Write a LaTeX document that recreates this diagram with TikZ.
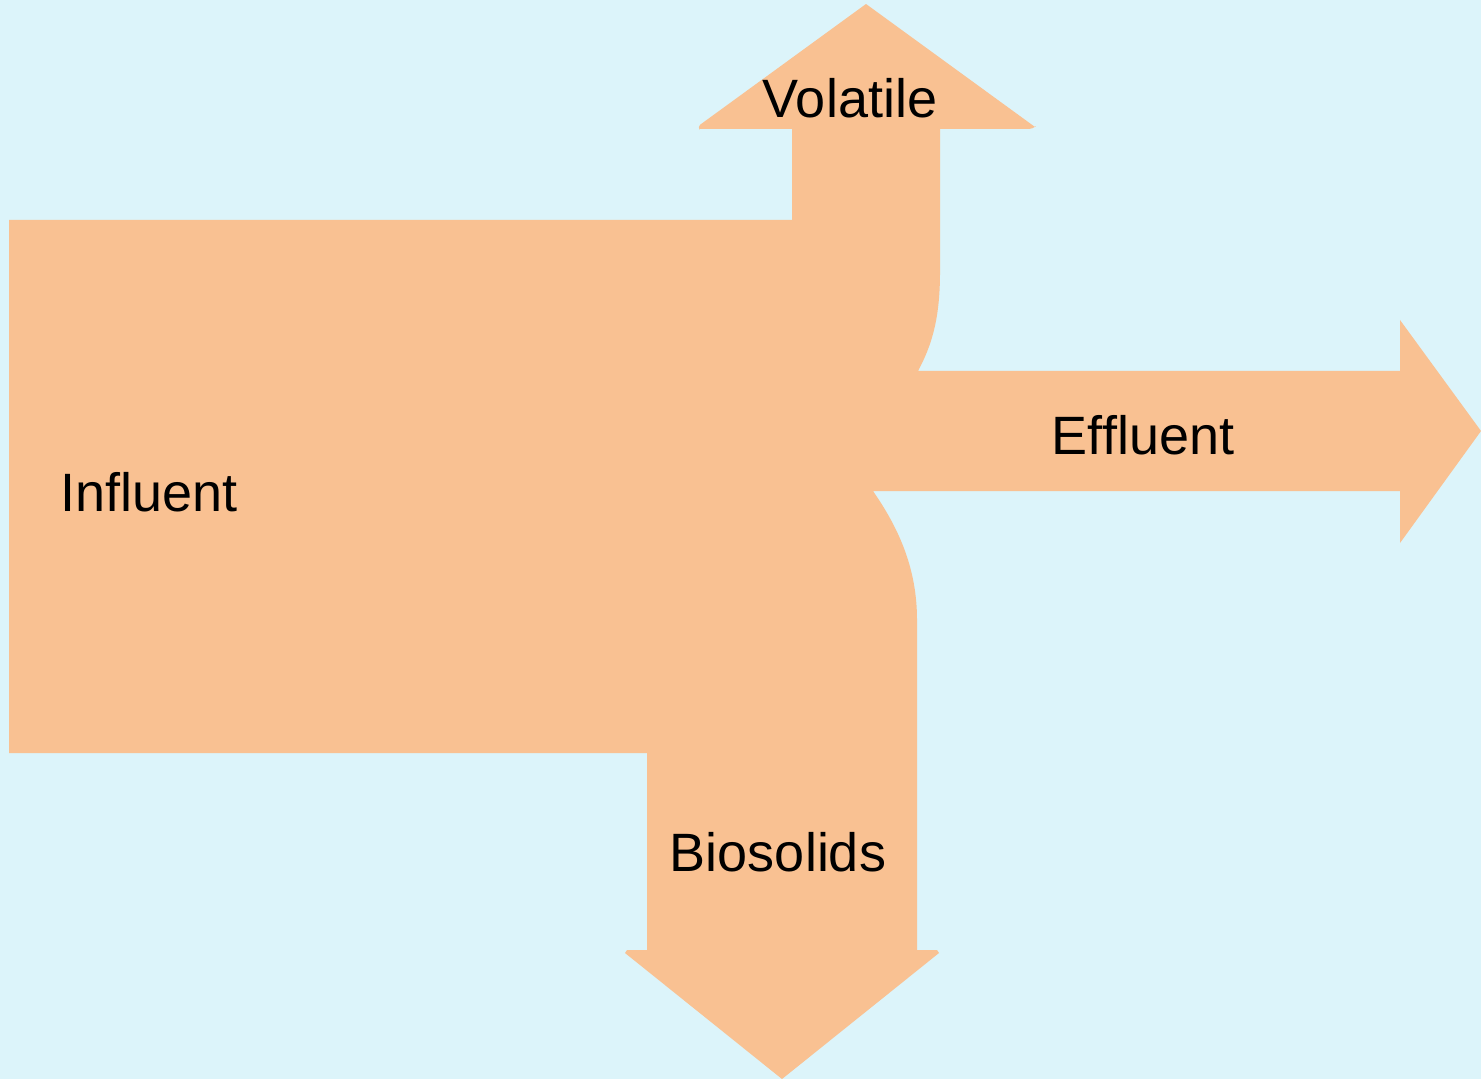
\documentclass[tikz,border=0pt]{standalone}
\usepackage{fontspec}
\setmainfont{Liberation Sans}
\definecolor{bgcyan}{HTML}{DCF4FA}
\definecolor{flow}{HTML}{F9C192}
\tikzset{lbl/.style={font=\fontsize{27pt}{30pt}\selectfont, text=black, inner sep=0pt}}
\begin{document}
\begin{tikzpicture}[x=0.5pt,y=-0.5pt]
\fill[bgcyan] (0,0) rectangle (1481,1079);
\useasboundingbox (0,0) rectangle (1481,1079);
\fill[flow] (9,220) -- (792,220) -- (792,129) -- (699,129) [rounded corners=2pt] -- (697,127) [sharp corners] -- (866,4)
  -- (1035,127) [rounded corners=2pt] -- (1033,129) [sharp corners] -- (940,129) -- (940,272)
  .. controls (940,318) and (932,345) .. (918,371) -- (1400,371) -- (1400,320) -- (1481,431)
  -- (1400,543) -- (1400,491) -- (873,491) .. controls (900,530) and (917,570) .. (917,620)
  -- (917,950) -- (937,950) -- (939,953) -- (782,1079) -- (625,953) -- (627,950) -- (647,950) -- (647,753) -- (9,753) -- cycle;
\node[lbl] (volatile) at (850,98) {Volatile};
\node[lbl] (influent) at (149,492) {Influent};
\node[lbl] (effluent) at (1143,435) {Effluent};
\node[lbl] (biosolids) at (778,852) {Biosolids};
\end{tikzpicture}
\end{document}
